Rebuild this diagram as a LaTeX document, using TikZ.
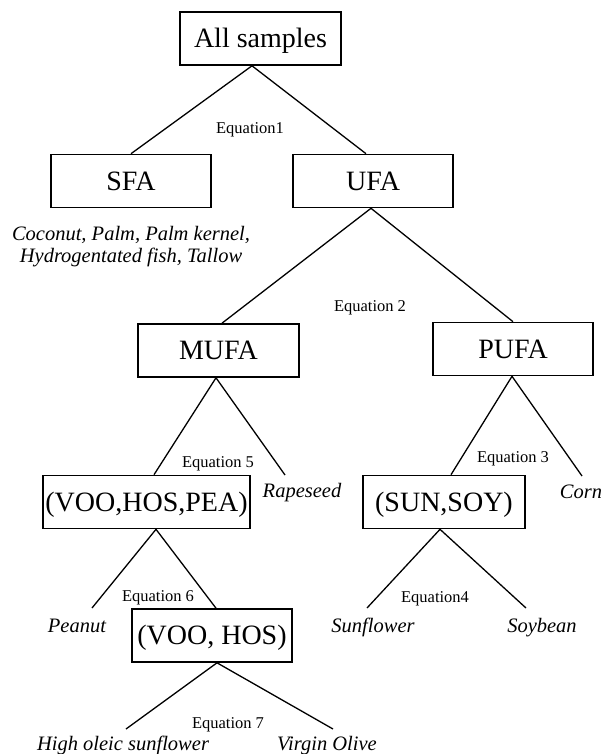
\documentclass[tikz,border=0pt]{standalone}
\usepackage{fontspec}
\setmainfont{Liberation Serif}
\begin{document}
\begin{tikzpicture}[x=1pt,y=-1pt,
  box/.style={draw, line width=1.6pt, minimum height=53pt, inner sep=2pt,
    text height=18.5pt, text depth=0pt, font=\fontsize{28}{30}\selectfont},
  eq/.style={anchor=base, inner sep=0pt, font=\fontsize{16.5}{18}\selectfont},
  leaf/.style={anchor=base, inner sep=0pt, font=\fontsize{20.5}{22}\selectfont\itshape},
  conn/.style={line width=1.3pt}]
\useasboundingbox (0,0) rectangle (601,754);
% boxes
\node[box, minimum width=161pt] (alls) at (260.5,38.5) {All samples};
\node[box, minimum width=160pt] (sfa) at (131,181) {SFA};
\node[box, minimum width=160pt] (ufa) at (373,181) {UFA};
\node[box, minimum width=161pt] (mufa) at (218.5,350.5) {MUFA};
\node[box, minimum width=160pt] (pufa) at (513,349) {PUFA};
\node[box, minimum width=207pt] (vhp) at (146.5,502) {(VOO,HOS,PEA)};
\node[box, minimum width=162pt] (ss) at (444,502) {(SUN,SOY)};
\node[box, minimum width=160pt] (vh) at (212,635.5) {(VOO, HOS)};
% free line ends
\coordinate (rapeEnd) at (285,475);
\coordinate (cornEnd) at (582,476);
\coordinate (peaEnd) at (92,608);
\coordinate (sunEnd) at (367,608);
\coordinate (soyEnd) at (526,608);
\coordinate (hosEnd) at (126,729);
\coordinate (vooEnd) at (333,729);
% connectors
\draw[conn] ([xshift=-8.5pt]alls.south) -- (sfa.north);
\draw[conn] ([xshift=-8.5pt]alls.south) -- ([xshift=-7pt]ufa.north);
\draw[conn] ([xshift=-2pt]ufa.south) -- ([xshift=3.5pt]mufa.north);
\draw[conn] ([xshift=-2pt]ufa.south) -- (pufa.north);
\draw[conn] ([xshift=-2.5pt]mufa.south) -- ([xshift=7.5pt]vhp.north);
\draw[conn] ([xshift=-2.5pt]mufa.south) -- (rapeEnd);
\draw[conn] ([xshift=-1pt]pufa.south) -- ([xshift=7pt]ss.north);
\draw[conn] ([xshift=-1pt]pufa.south) -- (cornEnd);
\draw[conn] ([xshift=9.5pt]vhp.south) -- (peaEnd);
\draw[conn] ([xshift=9.5pt]vhp.south) -- ([xshift=4pt]vh.north);
\draw[conn] ([xshift=-4pt]ss.south) -- (sunEnd);
\draw[conn] ([xshift=-4pt]ss.south) -- (soyEnd);
\draw[conn] ([xshift=5pt]vh.south) -- (hosEnd);
\draw[conn] ([xshift=5pt]vh.south) -- (vooEnd);
% equation labels
\node[eq] (eq1) at (250,134) {Equation1};
\node[eq] (eq2) at (370,311) {Equation 2};
\node[eq] (eq5) at (218,467) {Equation 5};
\node[eq] (eq3) at (513,462) {Equation 3};
\node[eq] (eq6) at (158,601) {Equation 6};
\node[eq] (eq4) at (435,602) {Equation4};
\node[eq] (eq7) at (228,728) {Equation 7};
% leaf labels
\node[leaf] (sfa1) at (131,240) {Coconut, Palm, Palm kernel,};
\node[leaf] (sfa2) at (131,262) {Hydrogentated fish, Tallow};
\node[leaf] (rape) at (302,497) {Rapeseed};
\node[leaf] (corn) at (581,498) {Corn};
\node[leaf] (pea) at (77,632) {Peanut};
\node[leaf] (sun) at (373,632) {Sunflower};
\node[leaf] (soy) at (542,632) {Soybean};
\node[leaf] (hos) at (123,750) {High oleic sunflower};
\node[leaf] (voo) at (327,750) {Virgin Olive};
\end{tikzpicture}
\end{document}
